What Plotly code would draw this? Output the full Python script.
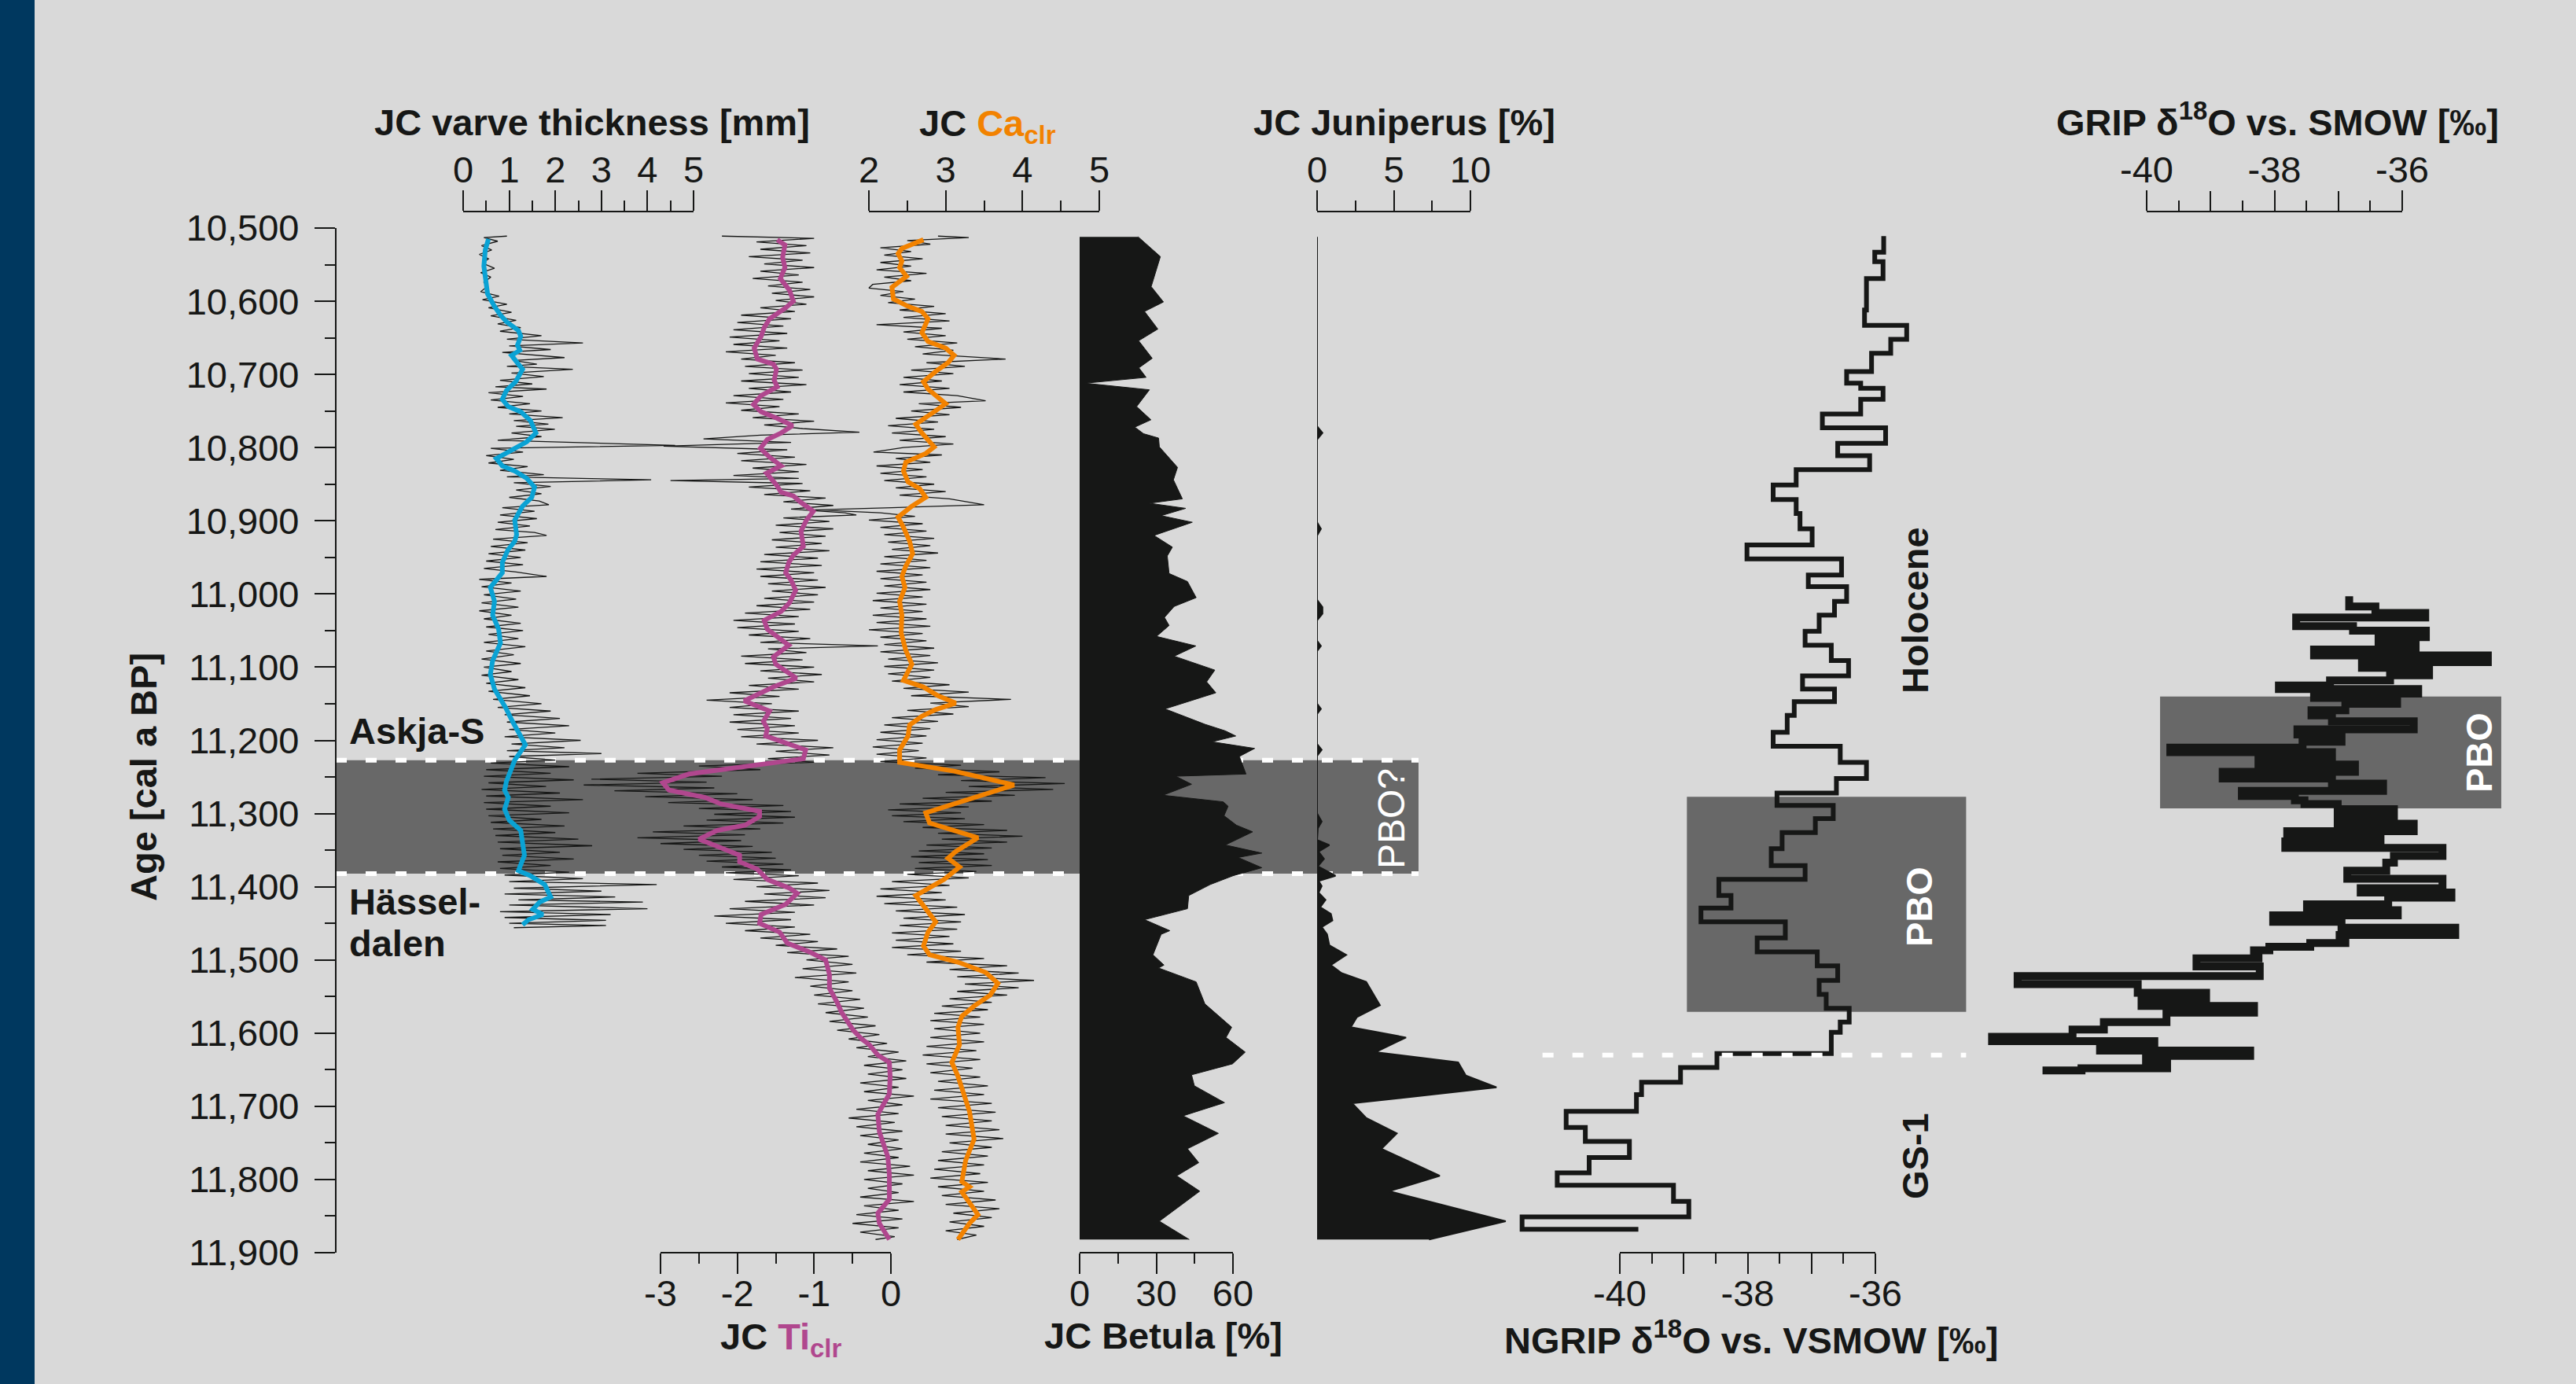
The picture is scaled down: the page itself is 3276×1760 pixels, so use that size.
import plotly.graph_objects as go

# ============================ DATA ============================
AGE_TICKS = [10500, 10600, 10700, 10800, 10900, 11000, 11100, 11200,
             11300, 11400, 11500, 11600, 11700, 11800, 11900]
AGE_TICK_LABELS = ["10,500", "10,600", "10,700", "10,800", "10,900", "11,000", "11,100",
                   "11,200", "11,300", "11,400", "11,500", "11,600", "11,700", "11,800", "11,900"]
AGE_MINOR = [10550, 10650, 10750, 10850, 10950, 11050, 11150, 11250,
             11350, 11450, 11550, 11650, 11750, 11850]

# event bands / markers (age in cal a BP, values in axis units)
PBO_JC = [11227, 11382]
PBO_NGRIP_AGE = [11277, 11571]
PBO_NGRIP_D18O = [-38.95, -34.58]
GS1_NGRIP_AGE = 11630
GS1_NGRIP_SPAN = [-41.21, -34.58]
PBO_GRIP_AGE = [11140, 11293]
PBO_GRIP_D18O = [-39.79, -34.45]

# JC varve thickness [mm]: smoothed (blue)
VARVE_SMOOTH = [
    (10515, 0.55), (10530, 0.48), (10552, 0.45), (10571, 0.48), (10590, 0.53), (10607, 0.68),
    (10619, 0.81), (10628, 0.94), (10640, 1.20), (10648, 1.25), (10660, 1.18), (10667, 1.23),
    (10674, 1.05), (10686, 1.20), (10693, 1.29), (10703, 1.20), (10710, 1.14), (10722, 0.94),
    (10734, 0.85), (10744, 0.98), (10751, 1.25), (10763, 1.46), (10780, 1.58), (10792, 1.38),
    (10806, 0.98), (10815, 0.72), (10825, 0.85), (10832, 1.12), (10842, 1.38), (10854, 1.55),
    (10868, 1.49), (10880, 1.29), (10890, 1.20), (10899, 1.12), (10919, 1.16), (10928, 1.12),
    (10940, 0.97), (10957, 0.85), (10971, 0.85), (10991, 0.59), (11010, 0.68), (11029, 0.64),
    (11048, 0.77), (11067, 0.81), (11091, 0.64), (11110, 0.59), (11130, 0.68), (11155, 0.92),
    (11174, 1.07), (11198, 1.29), (11206, 1.35), (11227, 1.12), (11256, 0.94), (11268, 0.90),
    (11278, 0.98), (11294, 0.90), (11309, 1.00), (11323, 1.25), (11337, 1.29), (11357, 1.33),
    (11378, 1.20), (11385, 1.46), (11397, 1.77), (11414, 1.90), (11421, 1.66), (11431, 1.51),
    (11438, 1.73), (11445, 1.42), (11452, 1.29)]

# JC varve thickness [mm]: annual values (thin black)
VARVE_RAW_AGE = [
    10511, 10513, 10518, 10524, 10530, 10536, 10542, 10548, 10555, 10561,
    10567, 10574, 10580, 10587, 10593, 10598, 10604, 10609, 10615, 10620,
    10626, 10631, 10636, 10641, 10647, 10652, 10657, 10661, 10666, 10670,
    10677, 10681, 10686, 10689, 10693, 10698, 10703, 10708, 10713, 10717,
    10720, 10725, 10730, 10735, 10740, 10745, 10750, 10754, 10759, 10763,
    10768, 10771, 10775, 10780, 10785, 10790, 10797, 10801, 10806, 10811,
    10816, 10821, 10826, 10831, 10837, 10840, 10844, 10848, 10853, 10858,
    10863, 10868, 10873, 10878, 10882, 10887, 10892, 10897, 10902, 10907,
    10912, 10916, 10920, 10925, 10930, 10935, 10940, 10945, 10950, 10955,
    10960, 10965, 10970, 10976, 10980, 10985, 10990, 10996, 11001, 11007,
    11012, 11018, 11023, 11029, 11034, 11040, 11045, 11050, 11055, 11061,
    11066, 11072, 11078, 11083, 11089, 11095, 11100, 11106, 11111, 11117,
    11122, 11128, 11133, 11139, 11144, 11150, 11155, 11160, 11165, 11170,
    11175, 11180, 11185, 11190, 11195, 11200, 11205, 11210, 11214, 11218,
    11222, 11227, 11231, 11236, 11240, 11245, 11249, 11254, 11258, 11263,
    11267, 11272, 11276, 11281, 11285, 11290, 11294, 11299, 11303, 11308,
    11312, 11317, 11321, 11326, 11330, 11335, 11339, 11344, 11348, 11353,
    11357, 11362, 11366, 11371, 11375, 11380, 11384, 11389, 11393, 11397,
    11402, 11406, 11410, 11414, 11418, 11421, 11425, 11430, 11434, 11438,
    11442, 11446, 11450, 11453, 11456]
VARVE_RAW_MM = [
    0.95, 0.45, 0.75, 0.40, 0.62, 0.35, 0.55, 0.42, 0.68, 0.38,
    0.60, 0.45, 0.52, 0.38, 0.78, 0.42, 0.95, 0.55, 1.05, 0.60,
    1.15, 0.75, 1.25, 0.80, 1.70, 0.95, 2.60, 1.00, 1.90, 0.85,
    2.20, 1.10, 1.60, 0.95, 2.38, 1.05, 1.75, 0.80, 1.50, 0.70,
    1.81, 0.55, 1.30, 0.60, 1.45, 0.75, 1.70, 1.00, 2.16, 1.10,
    1.85, 1.15, 1.99, 1.05, 1.70, 0.75, 4.60, 0.60, 1.30, 0.50,
    1.10, 0.55, 1.40, 0.80, 1.75, 0.95, 4.08, 1.10, 1.90, 1.15,
    1.70, 1.00, 1.65, 1.86, 0.85, 1.55, 0.80, 1.60, 0.75, 1.45,
    0.70, 1.55, 1.81, 0.65, 1.40, 0.60, 1.35, 0.55, 1.25, 0.50,
    1.30, 0.45, 1.15, 1.81, 0.35, 1.05, 0.40, 1.25, 0.45, 1.15,
    0.40, 1.20, 0.35, 1.05, 0.45, 1.25, 0.50, 1.30, 0.55, 1.20,
    0.45, 1.35, 0.50, 1.10, 0.40, 1.25, 0.45, 1.05, 0.40, 1.20,
    0.50, 1.35, 0.55, 1.45, 0.65, 1.70, 0.75, 1.90, 0.90, 2.10,
    0.95, 2.30, 1.00, 2.00, 0.90, 2.55, 1.05, 2.20, 0.95, 3.00,
    1.00, 2.00, 0.60, 2.30, 0.50, 1.90, 0.45, 2.40, 0.55, 1.80,
    0.40, 2.10, 0.50, 2.60, 0.45, 1.90, 0.50, 2.30, 0.55, 1.70,
    0.60, 2.20, 0.65, 2.00, 0.70, 2.50, 0.75, 2.80, 0.80, 2.10,
    0.85, 2.40, 0.75, 1.90, 0.80, 2.30, 0.90, 2.60, 1.00, 4.20,
    1.10, 3.00, 0.90, 3.30, 1.20, 3.90, 1.00, 4.00, 0.80, 3.20,
    0.90, 3.10, 1.00, 3.10, 1.10]

# JC Ti clr: smoothed (magenta)
TI_SMOOTH = [
    (10516, -1.48), (10523, -1.38), (10540, -1.41), (10554, -1.38), (10569, -1.44), (10585, -1.32),
    (10600, -1.27), (10609, -1.37), (10624, -1.58), (10636, -1.65), (10648, -1.69), (10664, -1.78),
    (10679, -1.74), (10686, -1.53), (10693, -1.49), (10708, -1.52), (10717, -1.48), (10729, -1.69),
    (10741, -1.79), (10751, -1.69), (10760, -1.48), (10770, -1.28), (10780, -1.43), (10789, -1.61),
    (10801, -1.70), (10813, -1.58), (10825, -1.43), (10835, -1.62), (10851, -1.49), (10861, -1.43),
    (10866, -1.27), (10875, -1.17), (10887, -1.01), (10899, -1.10), (10914, -1.17), (10935, -1.14),
    (10947, -1.27), (10957, -1.33), (10971, -1.37), (10981, -1.30), (10995, -1.24), (11012, -1.32),
    (11024, -1.43), (11036, -1.65), (11048, -1.61), (11070, -1.33), (11086, -1.53), (11096, -1.50),
    (11115, -1.23), (11127, -1.53), (11146, -1.91), (11160, -1.58), (11174, -1.66), (11184, -1.61),
    (11194, -1.63), (11206, -1.30), (11213, -1.11), (11225, -1.14), (11227, -1.27), (11246, -2.63),
    (11258, -2.97), (11268, -2.89), (11278, -2.42), (11287, -2.21), (11297, -1.71), (11304, -1.71),
    (11316, -1.90), (11323, -2.26), (11335, -2.50), (11347, -2.21), (11357, -1.97), (11366, -1.97),
    (11376, -1.74), (11390, -1.61), (11402, -1.32), (11409, -1.22), (11424, -1.37), (11438, -1.69),
    (11450, -1.71), (11462, -1.45), (11477, -1.35), (11489, -1.06), (11500, -0.85), (11520, -0.80),
    (11539, -0.80), (11558, -0.70), (11572, -0.64), (11596, -0.49), (11608, -0.38), (11616, -0.28),
    (11630, -0.17), (11640, -0.02), (11659, -0.01), (11683, -0.02), (11711, -0.17), (11735, -0.15),
    (11750, -0.10), (11769, -0.04), (11793, -0.02), (11827, -0.02), (11846, -0.17), (11860, -0.15),
    (11882, -0.02)]

# JC Ti clr: raw scan values (thin black)
TI_RAW = [
    (10511, -2.20), (10514, -1.00), (10519, -1.75), (10524, -1.10), (10529, -1.70), (10534, -1.05),
    (10539, -1.85), (10544, -1.15), (10549, -1.65), (10554, -1.00), (10559, -1.70), (10564, -1.20),
    (10569, -1.80), (10574, -1.15), (10579, -1.60), (10584, -1.05), (10589, -1.55), (10594, -1.00),
    (10599, -1.50), (10604, -1.10), (10609, -1.70), (10614, -1.25), (10619, -1.95), (10624, -1.30),
    (10629, -2.00), (10634, -1.40), (10639, -2.05), (10644, -1.35), (10649, -2.10), (10654, -1.45),
    (10659, -2.05), (10664, -1.35), (10669, -2.15), (10674, -1.50), (10679, -1.95), (10684, -1.25),
    (10689, -1.90), (10694, -1.15), (10699, -1.85), (10704, -1.20), (10709, -1.95), (10714, -1.10),
    (10719, -1.85), (10724, -1.30), (10729, -2.05), (10734, -1.40), (10739, -2.15), (10744, -1.45),
    (10749, -1.95), (10754, -1.20), (10759, -1.80), (10764, -1.00), (10769, -1.65), (10774, -1.15),
    (10779, -0.41), (10783, -1.70), (10788, -2.44), (10793, -1.30), (10798, -2.96), (10803, -1.35),
    (10808, -2.00), (10813, -1.25), (10818, -1.95), (10823, -1.10), (10828, -1.80), (10833, -1.20),
    (10838, -2.05), (10842, -1.20), (10845, -2.87), (10849, -1.15), (10854, -1.85), (10859, -1.05),
    (10864, -1.65), (10869, -0.85), (10874, -1.40), (10879, -0.75), (10884, -1.30), (10889, -0.60),
    (10892, -0.45), (10896, -1.40), (10901, -0.80), (10906, -1.50), (10911, -0.75), (10916, -1.45),
    (10921, -0.85), (10926, -1.55), (10931, -0.90), (10936, -1.50), (10941, -0.80), (10946, -1.65),
    (10951, -0.95), (10956, -1.70), (10961, -0.90), (10966, -1.75), (10971, -1.00), (10976, -1.70),
    (10981, -0.95), (10986, -1.60), (10991, -0.85), (10996, -1.55), (11001, -0.95), (11006, -1.65),
    (11011, -1.00), (11016, -1.75), (11021, -1.05), (11026, -1.90), (11031, -1.20), (11036, -2.05),
    (11041, -1.25), (11046, -2.00), (11051, -1.20), (11056, -1.85), (11061, -1.05), (11066, -1.70),
    (11071, -0.17), (11075, -1.60), (11080, -1.10), (11085, -1.95), (11090, -1.15), (11095, -1.90),
    (11100, -1.00), (11105, -1.70), (11110, -0.90), (11115, -1.60), (11120, -1.00), (11125, -1.85),
    (11130, -1.20), (11135, -2.10), (11140, -1.45), (11145, -2.40), (11150, -1.55), (11155, -2.10),
    (11160, -1.20), (11165, -2.05), (11170, -1.30), (11175, -2.10), (11180, -1.25), (11185, -2.00),
    (11190, -1.20), (11195, -1.95), (11200, -0.95), (11205, -1.75), (11210, -0.75), (11215, -1.50),
    (11220, -0.80), (11225, -1.60), (11230, -1.00), (11235, -2.50), (11240, -1.70), (11245, -3.30),
    (11249, -2.20), (11253, -3.90), (11257, -2.40), (11261, -4.00), (11265, -2.30), (11269, -3.60),
    (11273, -2.00), (11277, -3.20), (11281, -1.80), (11285, -2.90), (11289, -1.40), (11293, -2.50),
    (11297, -1.30), (11301, -2.30), (11305, -1.25), (11309, -2.40), (11313, -1.40), (11317, -2.70),
    (11321, -1.70), (11325, -3.10), (11329, -1.90), (11333, -3.30), (11337, -1.95), (11341, -3.00),
    (11345, -1.80), (11349, -2.70), (11353, -1.55), (11357, -2.50), (11361, -1.50), (11365, -2.40),
    (11369, -1.40), (11373, -2.20), (11377, -1.30), (11381, -2.15), (11385, -1.20), (11390, -2.05),
    (11395, -0.95), (11400, -1.75), (11405, -0.80), (11410, -1.65), (11415, -0.85), (11420, -1.90),
    (11425, -1.00), (11430, -2.10), (11435, -1.25), (11440, -2.30), (11445, -1.30), (11450, -2.15),
    (11455, -1.25), (11460, -1.90), (11465, -1.05), (11470, -1.70), (11475, -0.95), (11480, -1.50),
    (11485, -0.70), (11490, -1.35), (11495, -0.55), (11500, -1.10), (11506, -0.50), (11512, -1.15),
    (11518, -0.45), (11524, -1.25), (11530, -0.55), (11536, -1.05), (11542, -0.50), (11548, -1.00),
    (11554, -0.40), (11560, -0.95), (11566, -0.35), (11572, -0.85), (11578, -0.30), (11584, -0.80),
    (11590, -0.20), (11596, -0.70), (11602, -0.15), (11608, -0.55), (11614, -0.05), (11620, -0.45),
    (11626, 0.10), (11632, -0.30), (11638, 0.20), (11644, -0.35), (11650, 0.15), (11656, -0.30),
    (11662, 0.20), (11668, -0.40), (11674, 0.10), (11680, -0.35), (11686, 0.30), (11692, -0.30),
    (11698, 0.15), (11704, -0.45), (11710, 0.10), (11716, -0.55), (11722, 0.05), (11728, -0.45),
    (11734, 0.15), (11740, -0.40), (11746, 0.10), (11752, -0.30), (11758, 0.15), (11764, -0.35),
    (11770, 0.10), (11776, -0.40), (11782, 0.25), (11788, -0.30), (11794, 0.30), (11800, -0.35),
    (11806, 0.15), (11812, -0.30), (11818, 0.10), (11824, -0.40), (11830, 0.30), (11836, -0.35),
    (11842, 0.10), (11848, -0.45), (11854, 0.15), (11860, -0.50), (11866, 0.10), (11872, -0.40),
    (11878, 0.05), (11882, -0.20)]

# JC Ca clr: smoothed (orange)
CA_SMOOTH = [
    (10516, 2.71), (10528, 2.43), (10535, 2.38), (10545, 2.43), (10554, 2.40), (10566, 2.49),
    (10581, 2.30), (10597, 2.32), (10607, 2.51), (10614, 2.69), (10624, 2.77), (10633, 2.73),
    (10643, 2.69), (10655, 2.77), (10664, 3.00), (10674, 3.11), (10684, 3.03), (10696, 2.87),
    (10710, 2.71), (10720, 2.77), (10729, 2.87), (10740, 3.00), (10751, 2.85), (10768, 2.61),
    (10780, 2.69), (10799, 2.85), (10808, 2.74), (10820, 2.48), (10832, 2.45), (10847, 2.51),
    (10856, 2.66), (10868, 2.74), (10880, 2.56), (10895, 2.38), (10909, 2.45), (10928, 2.53),
    (10945, 2.57), (10962, 2.48), (10976, 2.43), (10991, 2.47), (11010, 2.40), (11029, 2.43),
    (11053, 2.42), (11077, 2.48), (11096, 2.56), (11118, 2.45), (11127, 2.71), (11139, 2.90),
    (11149, 3.13), (11158, 2.87), (11167, 2.69), (11179, 2.53), (11194, 2.51), (11213, 2.40),
    (11230, 2.40), (11242, 3.11), (11261, 3.89), (11280, 3.31), (11299, 2.74), (11313, 2.79),
    (11333, 3.42), (11352, 3.13), (11361, 3.03), (11373, 3.18), (11390, 2.98), (11412, 2.61),
    (11436, 2.79), (11448, 2.87), (11462, 2.77), (11481, 2.71), (11493, 2.79), (11503, 3.16),
    (11517, 3.52), (11532, 3.68), (11548, 3.58), (11563, 3.37), (11577, 3.21), (11592, 3.16),
    (11616, 3.18), (11640, 3.08), (11659, 3.16), (11676, 3.21), (11707, 3.31), (11745, 3.37),
    (11774, 3.26), (11803, 3.21), (11810, 3.31), (11817, 3.21), (11848, 3.42), (11860, 3.31),
    (11882, 3.16)]

# JC Ca clr: raw scan values (thin black)
CA_RAW = [
    (10511, 2.90), (10513, 3.30), (10517, 2.50), (10522, 2.80), (10527, 2.15), (10532, 2.55),
    (10537, 2.20), (10542, 2.70), (10547, 2.15), (10552, 2.55), (10557, 2.10), (10562, 2.75),
    (10567, 2.20), (10572, 2.55), (10577, 2.05), (10582, 2.00), (10587, 2.45), (10592, 2.15),
    (10597, 2.60), (10602, 2.25), (10607, 2.85), (10612, 2.40), (10617, 3.00), (10622, 2.45),
    (10627, 3.05), (10632, 2.10), (10637, 2.95), (10642, 2.45), (10647, 3.00), (10652, 2.50),
    (10657, 3.15), (10662, 2.60), (10667, 3.10), (10672, 2.70), (10679, 3.78), (10684, 2.75),
    (10689, 3.25), (10694, 2.55), (10699, 3.10), (10704, 2.45), (10709, 2.95), (10714, 2.40),
    (10719, 3.05), (10724, 2.45), (10729, 3.15), (10736, 3.52), (10740, 2.65), (10745, 3.20),
    (10750, 2.55), (10755, 3.05), (10760, 2.35), (10765, 2.90), (10770, 2.25), (10775, 2.85),
    (10780, 2.30), (10785, 3.00), (10790, 2.40), (10795, 3.10), (10800, 2.45), (10806, 2.06),
    (10810, 2.95), (10815, 2.35), (10820, 2.80), (10825, 2.10), (10830, 2.70), (10835, 2.15),
    (10840, 2.75), (10845, 2.20), (10850, 2.85), (10855, 2.35), (10860, 3.00), (10865, 2.40),
    (10870, 3.05), (10878, 3.50), (10882, 2.30), (10885, 1.30), (10889, 2.15), (10894, 2.60),
    (10899, 2.00), (10904, 2.70), (10909, 2.15), (10914, 2.75), (10919, 2.20), (10924, 2.85),
    (10929, 2.25), (10934, 2.80), (10939, 2.30), (10944, 2.90), (10949, 2.20), (10954, 2.75),
    (10959, 2.15), (10964, 2.80), (10969, 2.10), (10974, 2.70), (10979, 2.15), (10984, 2.75),
    (10989, 2.20), (10994, 2.80), (10999, 2.10), (11004, 2.70), (11009, 2.05), (11014, 2.75),
    (11019, 2.15), (11024, 2.70), (11029, 2.05), (11034, 2.75), (11039, 2.10), (11044, 2.80),
    (11049, 2.00), (11054, 2.70), (11059, 2.15), (11064, 2.75), (11069, 2.20), (11074, 2.85),
    (11079, 2.15), (11084, 2.80), (11089, 2.25), (11094, 2.90), (11099, 2.20), (11104, 2.85),
    (11109, 2.25), (11114, 2.80), (11119, 2.30), (11124, 3.05), (11129, 2.45), (11134, 3.30),
    (11139, 2.55), (11144, 3.85), (11149, 2.80), (11154, 3.30), (11159, 2.50), (11164, 3.10),
    (11169, 2.30), (11174, 2.90), (11179, 2.20), (11184, 2.80), (11189, 2.15), (11194, 2.75),
    (11199, 2.10), (11204, 2.70), (11209, 2.05), (11214, 2.65), (11219, 2.10), (11224, 2.75),
    (11229, 2.15), (11234, 3.20), (11238, 2.60), (11243, 3.70), (11247, 2.90), (11251, 4.30),
    (11255, 3.20), (11259, 4.55), (11263, 3.30), (11267, 4.40), (11271, 3.00), (11275, 3.90),
    (11279, 2.70), (11283, 3.60), (11287, 2.40), (11291, 3.30), (11295, 2.25), (11299, 3.20),
    (11303, 2.30), (11307, 3.25), (11311, 2.45), (11315, 3.50), (11319, 2.70), (11323, 3.80),
    (11327, 2.90), (11331, 4.00), (11335, 2.95), (11339, 3.80), (11343, 2.75), (11347, 3.60),
    (11351, 2.65), (11355, 3.50), (11359, 2.55), (11363, 3.55), (11367, 2.65), (11371, 3.60),
    (11375, 2.60), (11379, 3.40), (11383, 2.50), (11388, 3.30), (11393, 2.30), (11398, 3.05),
    (11403, 2.15), (11408, 2.95), (11413, 2.10), (11418, 3.00), (11423, 2.20), (11428, 3.15),
    (11433, 2.35), (11438, 3.25), (11443, 2.45), (11448, 3.20), (11453, 2.40), (11458, 3.15),
    (11463, 2.30), (11468, 3.05), (11473, 2.35), (11478, 3.10), (11483, 2.30), (11488, 3.20),
    (11493, 2.50), (11498, 3.50), (11503, 2.75), (11508, 3.80), (11513, 3.05), (11518, 3.95),
    (11523, 3.15), (11528, 4.15), (11533, 3.25), (11538, 3.95), (11543, 3.15), (11548, 3.80),
    (11553, 3.05), (11558, 3.60), (11563, 2.95), (11568, 3.55), (11573, 2.85), (11578, 3.45),
    (11583, 2.80), (11588, 3.50), (11594, 2.85), (11600, 3.45), (11606, 2.80), (11612, 3.50),
    (11618, 2.75), (11624, 3.40), (11630, 2.70), (11636, 3.45), (11642, 2.75), (11648, 3.35),
    (11654, 2.80), (11660, 3.45), (11666, 2.90), (11672, 3.55), (11678, 2.85), (11684, 3.50),
    (11690, 2.80), (11696, 3.60), (11702, 2.90), (11708, 3.65), (11714, 2.95), (11720, 3.60),
    (11726, 3.00), (11732, 3.70), (11738, 3.00), (11744, 3.75), (11750, 3.05), (11756, 3.60),
    (11762, 2.95), (11768, 3.55), (11774, 2.90), (11780, 3.50), (11786, 2.85), (11792, 3.45),
    (11798, 2.80), (11804, 3.55), (11810, 2.90), (11816, 3.50), (11822, 2.95), (11828, 3.65),
    (11834, 3.00), (11840, 3.70), (11846, 3.10), (11852, 3.60), (11858, 3.05), (11864, 3.50),
    (11870, 3.00), (11876, 3.40), (11882, 3.15)]

# JC Betula [%] (black silhouette)
BETULA = [
    (10512, 22.9), (10539, 31.6), (10580, 28.0), (10601, 32.8), (10614, 25.4), (10638, 30.6),
    (10654, 23.1), (10678, 28.4), (10691, 23.2), (10704, 26.0), (10712, 2.2), (10721, 27.3),
    (10744, 22.3), (10762, 27.9), (10772, 21.6), (10781, 25.0), (10787, 30.9), (10799, 31.2),
    (10827, 38.3), (10844, 36.7), (10870, 40.2), (10876, 27.3), (10883, 41.5), (10893, 31.9),
    (10902, 44.1), (10920, 29.1), (10936, 36.3), (10948, 34.3), (10972, 35.0), (10983, 42.2),
    (11005, 45.6), (11017, 37.0), (11032, 33.2), (11043, 35.0), (11058, 30.1), (11071, 45.5),
    (11085, 37.0), (11104, 52.9), (11120, 49.7), (11135, 53.3), (11157, 33.4), (11178, 49.0),
    (11187, 57.0), (11194, 61.1), (11202, 51.8), (11211, 68.5), (11222, 62.5), (11246, 65.1),
    (11249, 37.6), (11260, 43.8), (11275, 32.6), (11284, 56.2), (11290, 58.1), (11303, 56.5),
    (11316, 61.4), (11325, 67.7), (11343, 57.0), (11354, 71.3), (11360, 62.0), (11374, 71.3),
    (11385, 60.0), (11397, 51.1), (11412, 42.7), (11430, 42.2), (11445, 25.4), (11460, 35.3),
    (11465, 31.9), (11493, 28.7), (11507, 33.0), (11511, 30.9), (11530, 45.6), (11560, 49.0),
    (11592, 59.5), (11606, 57.3), (11626, 64.8), (11642, 59.8), (11657, 43.8), (11672, 44.9),
    (11695, 56.7), (11713, 40.5), (11737, 54.3), (11758, 42.2), (11777, 46.6), (11795, 38.0),
    (11816, 47.0), (11857, 31.2), (11882, 42.9)]

# JC Juniperus [%] (black silhouette)
JUNIPERUS = [
    (10512, 0), (10771, 0), (10780, 0.35), (10789, 0), (10902, 0), (10911, 0.25), (10920, 0),
    (11008, 0), (11018, 0.35), (11027, 0.35), (11036, 0), (11064, 0), (11071, 0.25), (11078, 0),
    (11150, 0), (11157, 0.25), (11164, 0), (11205, 0), (11213, 0.3), (11221, 0), (11300, 0),
    (11311, 0.3), (11320, 0.05), (11336, 0), (11343, 0.8), (11352, 0.1), (11362, 0.45),
    (11372, 0.05), (11385, 1.2), (11392, 0.1), (11399, 0.3), (11408, 0.1), (11418, 0.55),
    (11428, 0.2), (11437, 0.9), (11446, 1.0), (11455, 0.3), (11465, 0.65), (11480, 0.8),
    (11493, 1.9), (11507, 0.9), (11518, 1.6), (11530, 3.2), (11562, 4.1), (11578, 2.6),
    (11592, 2.2), (11606, 5.8), (11626, 3.8), (11640, 9.2), (11658, 9.7), (11674, 11.7),
    (11696, 2.3), (11716, 3.2), (11737, 5.2), (11758, 4.2), (11795, 8.0), (11816, 4.7),
    (11857, 12.3), (11882, 7.3)]

# NGRIP d18O vs VSMOW [permil] (stepped, age = start of each step)
NGRIP_AGE = [10511, 10533, 10546, 10569, 10612, 10633, 10652, 10671, 10696, 10712, 10719, 10734,
             10754, 10773, 10794, 10811, 10830, 10851, 10871, 10890, 10911, 10933, 10952, 10974,
             10990, 11010, 11029, 11051, 11070, 11091, 11112, 11130, 11147, 11166, 11189, 11208,
             11230, 11252, 11272, 11289, 11307, 11326, 11348, 11371, 11390, 11412, 11429, 11448,
             11470, 11489, 11508, 11528, 11547, 11566, 11585, 11599, 11628, 11647, 11667, 11684,
             11707, 11729, 11748, 11770, 11791, 11808, 11830, 11851, 11868]
NGRIP_D18O = [-35.87, -36.01, -35.88, -36.14, -36.17, -35.51, -35.76, -36.06, -36.45, -36.23,
              -35.88, -36.23, -36.83, -35.84, -36.59, -36.09, -37.24, -37.60, -37.24, -37.18,
              -36.99, -38.01, -36.53, -37.05, -36.45, -36.64, -36.88, -37.10, -36.69, -36.42,
              -37.14, -36.64, -37.27, -37.38, -37.60, -36.55, -36.14, -36.61, -37.54, -36.66,
              -36.94, -37.46, -37.63, -37.10, -38.45, -38.26, -38.73, -37.41, -37.85, -36.91,
              -36.59, -36.88, -36.77, -36.41, -36.55, -36.69, -38.48, -39.05, -39.66, -39.74,
              -40.84, -40.54, -39.85, -40.48, -40.98, -39.16, -38.92, -41.53, -39.71]

# GRIP d18O vs SMOW [permil] (stepped)
GRIP = [
    (11003, -36.83), (11017, -36.42), (11026, -35.64), (11032, -37.66), (11044, -36.77),
    (11050, -35.63), (11059, -36.37), (11066, -35.79), (11076, -37.38), (11084, -34.66),
    (11093, -36.63), (11101, -35.58), (11111, -36.19), (11118, -37.13), (11125, -37.93),
    (11130, -35.75), (11136, -37.38), (11142, -36.08), (11150, -36.89), (11159, -37.42),
    (11166, -37.10), (11174, -35.82), (11185, -37.64), (11192, -36.95), (11202, -37.56),
    (11210, -39.63), (11216, -37.10), (11224, -38.25), (11233, -36.74), (11243, -38.81),
    (11252, -37.10), (11259, -36.30), (11269, -38.51), (11276, -37.68), (11282, -37.53),
    (11287, -37.01), (11294, -36.13), (11304, -37.01), (11314, -35.82), (11324, -37.80),
    (11331, -36.34), (11338, -37.83), (11347, -35.37), (11358, -36.13), (11367, -36.25),
    (11378, -36.86), (11389, -35.37), (11402, -36.65), (11408, -35.23), (11415, -36.22),
    (11424, -37.49), (11432, -36.07), (11439, -38.02), (11448, -36.95), (11456, -35.17),
    (11466, -36.98), (11472, -36.89), (11477, -37.44), (11482, -38.08), (11487, -38.32),
    (11492, -38.25), (11498, -39.22), (11509, -38.23), (11522, -42.02), (11533, -40.14),
    (11545, -39.07), (11554, -40.08), (11563, -38.32), (11572, -39.69), (11585, -40.67),
    (11595, -41.16), (11605, -42.42), (11611, -39.88), (11617, -40.73), (11624, -38.38),
    (11631, -40.01), (11640, -39.68), (11648, -41.02), (11651, -41.63)]

# ================================ STYLE / LAYOUT ================================
W, H = 3276, 1760
FONT = "Liberation Sans, Arial, Helvetica, sans-serif"
INK = "#161716"
BG = "#d9d9d9"
NAVY = "#00385f"
BAND = "#686868"
BLUE = "#0aa2d4"
MAGENTA = "#b0478e"
ORANGE = "#f28200"
FS = 47


def fx(p):
    return p / W


def fy(p):
    return 1 - p / H


Y_TOP_PX, Y_BOT_PX, Y_AXIS_PX = 290, 1593, 427
TOP_AX_PX, BOT_AX_PX = 269, 1593
STANDOFF = {"top": -9, "bottom": -16}


def span(scale, dom):
    p0, p1, v0, v1 = scale
    k = (v1 - v0) / (p1 - p0)
    return [v0 + (dom[0] - p0) * k, v0 + (dom[1] - p0) * k]


# panel: data axis, tick axis, optional axis for long unlabeled ticks,
# (px of first tick, px of last tick, first val, last val), data domain px
PANELS = {
    "varve": dict(d="x", t="x2", scale=(589, 882, 0, 5), dom=(540, 930), side="top",
                  tv=[0, 1, 2, 3, 4, 5], mv=[0.5, 1.5, 2.5, 3.5, 4.5]),
    "ti": dict(d="x3", t="x4", scale=(840, 1133, -3, 0), dom=(690, 1190), side="bottom",
               tv=[-3, -2, -1, 0], mv=[-2.5, -1.5, -0.5]),
    "ca": dict(d="x5", t="x6", scale=(1105, 1398, 2, 5), dom=(1000, 1440), side="top",
               tv=[2, 3, 4, 5], mv=[2.5, 3.5, 4.5]),
    "betula": dict(d="x7", t="x8", scale=(1373, 1568, 0, 60), dom=(1373, 1650), side="bottom",
                   tv=[0, 30, 60], mv=[15, 45]),
    "juni": dict(d="x9", t="x10", scale=(1675, 1870, 0, 10), dom=(1675, 1970), side="top",
                 tv=[0, 5, 10], mv=[2.5, 7.5]),
    "ngrip": dict(d="x11", t="x12", u="x15", scale=(2060, 2385, -40, -36), dom=(1900, 2530),
                  side="bottom", tv=[-40, -38, -36], lv=[-39, -37],
                  mv=[-39.5, -38.5, -37.5, -36.5]),
    "grip": dict(d="x13", t="x14", u="x16", scale=(2730, 3055, -40, -36), dom=(2480, 3260),
                 side="top", tv=[-40, -38, -36], lv=[-39, -37],
                 mv=[-39.5, -38.5, -37.5, -36.5]),
}


def axkey(a):
    return "xaxis" if a == "x" else "xaxis" + a[1:]


def fmt(v):
    return ("-%g" % abs(v)) if v < 0 else "%g" % v


layout_axes = {}
fig = go.Figure()


def anchor_trace(axis, v0):
    # invisible point so that a tick-only axis gets rendered
    fig.add_trace(go.Scatter(x=[v0], y=[AGE_TICKS[0]], xaxis=axis, yaxis="y", mode="markers",
                             marker=dict(size=1, opacity=0), hoverinfo="skip", showlegend=False))


for name, p in PANELS.items():
    p0, p1, v0, v1 = p["scale"]
    pos = fy(TOP_AX_PX if p["side"] == "top" else BOT_AX_PX)
    layout_axes[axkey(p["d"])] = dict(domain=[fx(p["dom"][0]), fx(p["dom"][1])],
                                      range=span(p["scale"], p["dom"]), visible=False,
                                      anchor="y", fixedrange=True, showgrid=False,
                                      zeroline=False, automargin=False)
    layout_axes[axkey(p["t"])] = dict(
        domain=[fx(p0), fx(p1)], range=[v0, v1], side=p["side"], anchor="free", position=pos,
        showline=True, linecolor=INK, linewidth=2.2, mirror=False,
        ticks="outside", ticklen=26, tickwidth=2.2, tickcolor=INK,
        tickmode="array", tickvals=p["tv"], ticktext=[fmt(t) for t in p["tv"]],
        ticklabelstandoff=STANDOFF[p["side"]], tickfont=dict(family=FONT, size=FS, color=INK),
        minor=dict(ticks="outside", ticklen=13, tickwidth=2.2, tickcolor=INK,
                   tickmode="array", tickvals=p["mv"]),
        showgrid=False, zeroline=False, fixedrange=True, automargin=False)
    anchor_trace(p["t"], v0)
    if "u" in p:
        layout_axes[axkey(p["u"])] = dict(
            domain=[fx(p0), fx(p1)], range=[v0, v1], side=p["side"], anchor="free",
            position=pos, showline=False, showticklabels=False,
            ticks="outside", ticklen=26, tickwidth=2.2, tickcolor=INK,
            tickmode="array", tickvals=p["lv"],
            showgrid=False, zeroline=False, fixedrange=True, automargin=False)
        anchor_trace(p["u"], v0)


def unzip(series):
    return [a for a, _ in series], [v for _, v in series]


def line(xs, ys, axis, color, width, shape="linear", **kw):
    fig.add_trace(go.Scatter(x=xs, y=ys, xaxis=axis, yaxis="y", mode="lines",
                             line=dict(color=color, width=width, shape=shape),
                             hoverinfo="skip", showlegend=False, **kw))


# varve thickness
line(VARVE_RAW_MM, VARVE_RAW_AGE, PANELS["varve"]["d"], INK, 1.3)
a, v = unzip(VARVE_SMOOTH)
line(v, a, PANELS["varve"]["d"], BLUE, 6)
# Ti
a, v = unzip(TI_RAW)
line(v, a, PANELS["ti"]["d"], INK, 1.3)
a, v = unzip(TI_SMOOTH)
line(v, a, PANELS["ti"]["d"], MAGENTA, 6)
# Ca
a, v = unzip(CA_RAW)
line(v, a, PANELS["ca"]["d"], INK, 1.3)
a, v = unzip(CA_SMOOTH)
line(v, a, PANELS["ca"]["d"], ORANGE, 6)
# Betula
a, v = unzip(BETULA)
line(v, a, PANELS["betula"]["d"], INK, 1, fill="tozerox", fillcolor=INK)
# Juniperus
a, v = unzip(JUNIPERUS)
line(v, a, PANELS["juni"]["d"], INK, 2, fill="tozerox", fillcolor=INK)
# NGRIP
line(NGRIP_D18O, NGRIP_AGE, PANELS["ngrip"]["d"], INK, 6, shape="vh")
# GRIP
a, v = unzip(GRIP)
line(v, a, PANELS["grip"]["d"], INK, 10, shape="vh")

# ---------------- shapes ----------------
DASH = "14px,24px"
shapes = [
    dict(type="rect", xref="paper", yref="paper", x0=0, x1=fx(44), y0=0, y1=1,
         fillcolor=NAVY, line=dict(width=0), layer="below"),
    dict(type="rect", xref="paper", yref="y", x0=fx(Y_AXIS_PX), x1=fx(1804),
         y0=PBO_JC[0], y1=PBO_JC[1], fillcolor=BAND, line=dict(width=0), layer="below"),
    dict(type="line", xref="paper", yref="y", x0=fx(Y_AXIS_PX), x1=fx(1804),
         y0=PBO_JC[0], y1=PBO_JC[0], line=dict(color="white", width=6, dash=DASH), layer="below"),
    dict(type="line", xref="paper", yref="y", x0=fx(Y_AXIS_PX), x1=fx(1804),
         y0=PBO_JC[1], y1=PBO_JC[1], line=dict(color="white", width=6, dash=DASH), layer="below"),
    dict(type="rect", xref=PANELS["ngrip"]["d"], yref="y", x0=PBO_NGRIP_D18O[0],
         x1=PBO_NGRIP_D18O[1], y0=PBO_NGRIP_AGE[0], y1=PBO_NGRIP_AGE[1],
         fillcolor=BAND, line=dict(width=0), layer="below"),
    dict(type="line", xref=PANELS["ngrip"]["d"], yref="y", x0=GS1_NGRIP_SPAN[0],
         x1=GS1_NGRIP_SPAN[1], y0=GS1_NGRIP_AGE, y1=GS1_NGRIP_AGE,
         line=dict(color="white", width=6, dash=DASH), layer="above"),
    dict(type="rect", xref=PANELS["grip"]["d"], yref="y", x0=PBO_GRIP_D18O[0],
         x1=PBO_GRIP_D18O[1], y0=PBO_GRIP_AGE[0], y1=PBO_GRIP_AGE[1],
         fillcolor=BAND, line=dict(width=0), layer="below"),
]


# ---------------- annotations ----------------
def ann(text, xpx, ypx, size=FS, color=INK, angle=0, xanchor="center"):
    return dict(text=text, x=fx(xpx), y=fy(ypx), xref="paper", yref="paper", showarrow=False,
                xanchor=xanchor, yanchor="middle", textangle=angle,
                font=dict(family=FONT, size=size, color=color))


annotations = [
    ann("<b>JC varve thickness [mm]</b>", 753, 155),
    ann("<b>JC <span style='color:%s'>Ca<sub>clr</sub></span></b>" % ORANGE, 1256, 160),
    ann("<b>JC Juniperus [%]</b>", 1786, 155),
    ann("<b>GRIP δ<sup>18</sup>O vs. SMOW [‰]</b>", 2896, 152),
    ann("<b>JC <span style='color:%s'>Ti<sub>clr</sub></span></b>" % MAGENTA, 993, 1703),
    ann("<b>JC Betula [%]</b>", 1479, 1698),
    ann("<b>NGRIP δ<sup>18</sup>O vs. VSMOW [‰]</b>", 2227, 1701),
    ann("<b>Age [cal a BP]</b>", 182, 988, angle=-90),
    ann("<b>Askja-S</b>", 442, 929, xanchor="left"),
    ann("<b>Hässel-</b>", 442, 1146, xanchor="left"),
    ann("<b>dalen</b>", 442, 1199, xanchor="left"),
    ann("PBO?", 1769, 1041, size=48, color="white", angle=-90),
    ann("<b>PBO</b>", 2440, 1153, color="white", angle=-90),
    ann("<b>Holocene</b>", 2435, 776, angle=-90),
    ann("<b>GS-1</b>", 2435, 1470, angle=-90),
    ann("<b>PBO</b>", 3153, 957, color="white", angle=-90),
]

fig.update_layout(
    width=W, height=H, autosize=False,
    margin=dict(l=0, r=0, t=0, b=0, pad=0, autoexpand=False),
    paper_bgcolor=BG, plot_bgcolor="rgba(0,0,0,0)",
    showlegend=False, font=dict(family=FONT, color=INK, size=FS),
    shapes=shapes, annotations=annotations,
    yaxis=dict(domain=[fy(Y_BOT_PX), fy(Y_TOP_PX)], range=[11900, 10500], autorange=False,
               anchor="free", position=fx(Y_AXIS_PX), side="left",
               showline=True, linecolor=INK, linewidth=2.2,
               ticks="outside", ticklen=26, tickwidth=2.2, tickcolor=INK,
               tickmode="array", tickvals=AGE_TICKS, ticktext=AGE_TICK_LABELS,
               ticklabelstandoff=10, tickfont=dict(family=FONT, size=FS, color=INK),
               minor=dict(ticks="outside", ticklen=13, tickwidth=2.2, tickcolor=INK,
                          tickmode="array", tickvals=AGE_MINOR),
               showgrid=False, zeroline=False, fixedrange=True, automargin=False),
    **layout_axes,
)

fig.write_html("out.html", include_plotlyjs=True, config=dict(displayModeBar=False),
               post_script="document.body.style.margin='0';document.body.style.overflow='hidden';")
